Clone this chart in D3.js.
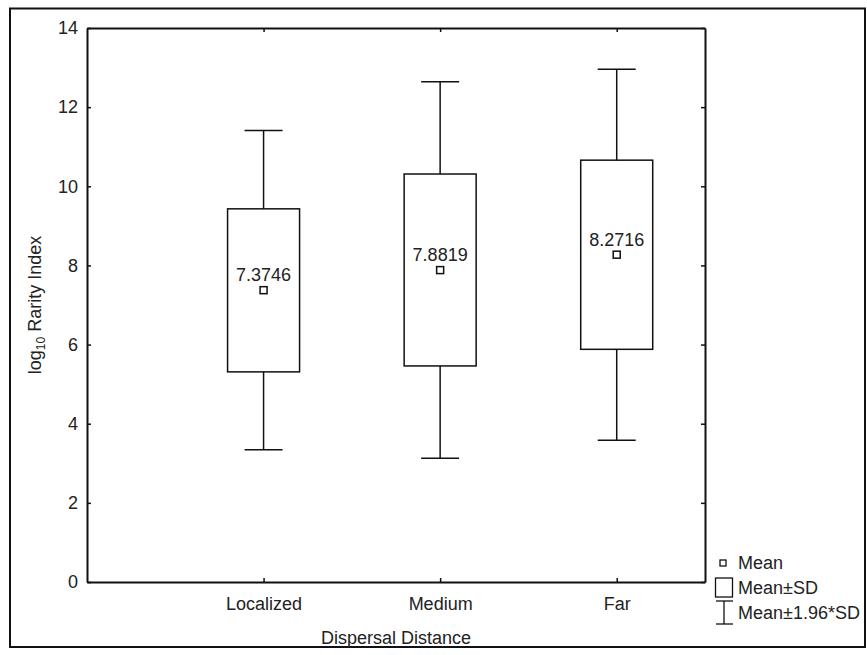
<!DOCTYPE html>
<html>
<head>
<meta charset="utf-8">
<script src="https://cdn.jsdelivr.net/npm/d3@7"></script>
<style>
  body { margin: 0; background: #fff; }
  svg text { font-family: "Liberation Sans", Arial, sans-serif; fill: #222; }
</style>
</head>
<body>
<div id="chart"></div>
<script>
// Box-and-whisker (mean / SD / 1.96*SD) chart

const categories = ['Localized', 'Medium', 'Far'];
const means = [7.3746, 7.8819, 8.2716];
const sdLow = [5.31, 5.46, 5.88];
const sdHigh = [9.43, 10.31, 10.66];
const ciLow = [3.34, 3.13, 3.58];
const ciHigh = [11.41, 12.64, 12.96];
const yTicks = [0, 2, 4, 6, 8, 10, 12, 14];

const width = 867;
const height = 655;
const plot = { left: 87, right: 705, top: 28, bottom: 582 };

const svg = d3.select('#chart')
    .append('svg')
    .attr('width', width)
    .attr('height', height);

// Outer frame
svg.append('rect')
    .attr('x', 10)
    .attr('y', 8.5)
    .attr('width', 855)
    .attr('height', 638.5)
    .attr('fill', 'none')
    .attr('stroke', '#111')
    .attr('stroke-width', 2);

const x = d3.scaleLinear().domain([0, 3.5]).range([plot.left, plot.right]);
const y = d3.scaleLinear().domain([0, 14]).range([plot.bottom, plot.top]);

const data = categories.map((c, i) => ({
    name: c,
    pos: i + 1,
    mean: means[i],
    sdLow: sdLow[i],
    sdHigh: sdHigh[i],
    ciLow: ciLow[i],
    ciHigh: ciHigh[i],
}));

// Axes (ticks pointing inward)
const styleAxis = g => {
    g.select('.domain').attr('stroke', '#111').attr('stroke-width', 2);
    g.selectAll('.tick line').attr('stroke', '#111').attr('stroke-width', 1.5);
    g.selectAll('.tick text').attr('font-size', '18px').attr('fill', '#222');
};

svg.append('g')
    .attr('transform', `translate(${plot.left},0)`)
    .call(d3.axisLeft(y).tickValues(yTicks).tickSizeInner(-4).tickSizeOuter(0).tickPadding(9))
    .call(styleAxis);

svg.append('g')
    .attr('transform', `translate(${plot.right},0)`)
    .call(d3.axisRight(y).tickValues(yTicks).tickSizeInner(-4).tickSizeOuter(0).tickFormat(''))
    .call(styleAxis);

svg.append('g')
    .attr('transform', `translate(0,${plot.bottom})`)
    .call(d3.axisBottom(x).tickValues([1, 2, 3]).tickSizeInner(-4).tickSizeOuter(0)
        .tickPadding(15).tickFormat(d => categories[d - 1]))
    .call(styleAxis);

svg.append('g')
    .attr('transform', `translate(0,${plot.top})`)
    .call(d3.axisTop(x).tickValues([1, 2, 3]).tickSizeInner(-4).tickSizeOuter(0).tickFormat(''))
    .call(styleAxis);

// Boxes
const boxW = 72;
const capW = 38;

const groups = svg.append('g')
    .selectAll('g')
    .data(data)
    .join('g');

groups.append('line')
    .attr('x1', d => x(d.pos))
    .attr('x2', d => x(d.pos))
    .attr('y1', d => y(d.ciHigh))
    .attr('y2', d => y(d.sdHigh))
    .attr('stroke', '#111')
    .attr('stroke-width', 1.5);

groups.append('line')
    .attr('x1', d => x(d.pos))
    .attr('x2', d => x(d.pos))
    .attr('y1', d => y(d.sdLow))
    .attr('y2', d => y(d.ciLow))
    .attr('stroke', '#111')
    .attr('stroke-width', 1.5);

['ciHigh', 'ciLow'].forEach(k => {
    groups.append('line')
        .attr('x1', d => x(d.pos) - capW / 2)
        .attr('x2', d => x(d.pos) + capW / 2)
        .attr('y1', d => y(d[k]))
        .attr('y2', d => y(d[k]))
        .attr('stroke', '#111')
        .attr('stroke-width', 1.5);
});

groups.append('rect')
    .attr('x', d => x(d.pos) - boxW / 2)
    .attr('y', d => y(d.sdHigh))
    .attr('width', boxW)
    .attr('height', d => y(d.sdLow) - y(d.sdHigh))
    .attr('fill', 'none')
    .attr('stroke', '#111')
    .attr('stroke-width', 1.5);

groups.append('rect')
    .attr('x', d => x(d.pos) - 3.5)
    .attr('y', d => y(d.mean) - 3.5)
    .attr('width', 7)
    .attr('height', 7)
    .attr('fill', '#fff')
    .attr('stroke', '#111')
    .attr('stroke-width', 1.5);

groups.append('text')
    .attr('x', d => x(d.pos))
    .attr('y', d => y(d.mean) - 9)
    .attr('text-anchor', 'middle')
    .attr('font-size', '18px')
    .attr('fill', '#333')
    .text(d => d.mean.toFixed(4));

// Axis titles
svg.append('text')
    .attr('x', (plot.left + plot.right) / 2)
    .attr('y', 644)
    .attr('text-anchor', 'middle')
    .attr('font-size', '18px')
    .text('Dispersal Distance');

const yTitle = svg.append('text')
    .attr('transform', `translate(41,${(plot.top + plot.bottom) / 2}) rotate(-90)`)
    .attr('text-anchor', 'middle')
    .attr('font-size', '18px');
yTitle.append('tspan').text('log');
yTitle.append('tspan').attr('font-size', '12px').attr('dy', 4).text('10');
yTitle.append('tspan').attr('dy', -4).text(' Rarity Index');

// Legend
const legend = svg.append('g');
legend.append('rect')
    .attr('x', 720).attr('y', 560).attr('width', 6).attr('height', 6)
    .attr('fill', '#fff').attr('stroke', '#111').attr('stroke-width', 1.3);
legend.append('rect')
    .attr('x', 715.5).attr('y', 578).attr('width', 17).attr('height', 19)
    .attr('fill', '#fff').attr('stroke', '#111').attr('stroke-width', 1.3);
legend.append('line')
    .attr('x1', 724).attr('x2', 724).attr('y1', 601).attr('y2', 624)
    .attr('stroke', '#111').attr('stroke-width', 1.3);
[601, 624].forEach(v => {
    legend.append('line')
        .attr('x1', 716).attr('x2', 733).attr('y1', v).attr('y2', v)
        .attr('stroke', '#111').attr('stroke-width', 1.3);
});
const legendLabels = ['Mean', 'Mean\u00B1SD', 'Mean\u00B11.96*SD'];
const legendY = [563, 588, 613];
legend.selectAll('text.lg')
    .data(legendLabels)
    .join('text')
    .attr('class', 'lg')
    .attr('x', 738)
    .attr('y', (d, i) => legendY[i])
    .attr('dy', '0.35em')
    .attr('font-size', '18px')
    .text(d => d);
</script>
</body>
</html>
